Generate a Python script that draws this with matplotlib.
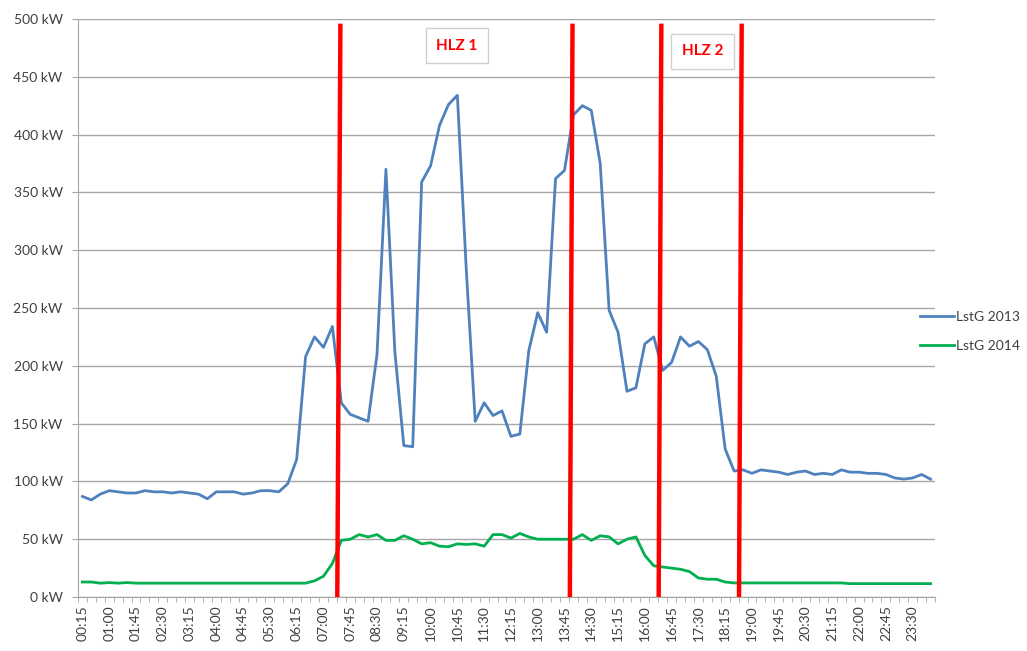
import numpy as np
import matplotlib
matplotlib.use("Agg")
import matplotlib.pyplot as plt

# 15-minute load profile, 00:15 .. 24:00
times = [f"{(m // 60) % 24:02d}:{m % 60:02d}" for m in range(15, 24 * 60 + 15, 15)]

lstg_2013 = [
    87, 84, 89, 92, 91, 90, 90, 92, 91, 91, 90, 91, 90, 89, 85, 91,
    91, 91, 89, 90, 92, 92, 91, 98, 119, 208, 225, 216, 234, 168, 158, 155,
    152, 210, 370, 212, 131, 130, 359, 373, 408, 426, 434, 283, 152, 168,
    157, 161, 139, 141, 213, 246, 229, 362, 369, 417, 425, 421, 375, 248,
    229, 178, 181, 219, 225, 196, 203, 225, 217, 221, 214, 191, 128, 109,
    110, 107, 110, 109, 108, 106, 108, 109, 106, 107, 106, 110, 108, 108,
    107, 107, 106, 103, 102, 103, 106, 102,
]
lstg_2014 = [
    13, 13, 12, 12.5, 12, 12.5, 12, 12, 12, 12, 12, 12, 12, 12, 12, 12,
    12, 12, 12, 12, 12, 12, 12, 12, 12, 12, 14, 18, 29, 49, 50, 54,
    52, 54, 49, 49, 53, 50, 46, 47, 44, 43.5, 46, 45.5, 46, 44,
    54, 54, 51, 55, 52, 50, 50, 50, 50, 50, 54, 49, 53, 52,
    46, 50, 52, 36, 27, 26, 25, 24, 22, 16.5, 15.4, 15.4, 13, 12.2,
    12.2, 12.2, 12.2, 12.2, 12.2, 12.2, 12.2, 12.2, 12.2, 12.2, 12.2, 12.2, 11.6, 11.6,
    11.6, 11.6, 11.6, 11.6, 11.6, 11.6, 11.6, 11.6,
]

# HLZ window borders in category units (bottom, top) - hand drawn, slightly tilted
hlz_borders = [(28.55, 28.9), (54.6, 54.9), (64.55, 64.85), (73.55, 73.85)]
hlz_labels = ["HLZ 1", "HLZ 2"]
hlz_label_pos = [(41.95, 477), (69.5, 472)]

blue = "#4F81BD"
green = "#00B050"
grey = "#A6A6A6"
txt = "#404040"

plt.rcParams["font.family"] = ["Lato", "DejaVu Sans"]

fig = plt.figure(figsize=(10.27, 6.51), dpi=100)
ax = fig.add_axes([0.0759, 0.0829, 0.8345, 0.8879])

x = np.arange(len(times))
ax.plot(x, lstg_2013, color=blue, lw=2.0, label="LstG 2013", zorder=3)
ax.plot(x, lstg_2014, color=green, lw=2.0, label="LstG 2014", zorder=3)

for b, t in hlz_borders:
    ax.plot([b, t], [0, 496], color="#FF0000", lw=3.2, zorder=4, solid_capstyle="butt")

for lab, (lx, ly) in zip(hlz_labels, hlz_label_pos):
    ax.text(lx, ly, lab, color="#FF0000", fontsize=11, fontweight="bold",
            ha="center", va="center", zorder=5,
            bbox=dict(boxstyle="square,pad=0.7", fc="white", ec="#D0D0D0", lw=1))

ax.set_xlim(-0.5, len(times) - 0.5)
ax.set_ylim(0, 500)
ax.set_yticks(np.arange(0, 501, 50))
ax.set_yticklabels([f"{v} kW" for v in range(0, 501, 50)], color=txt, fontsize=10)
ax.yaxis.grid(True, color=grey, lw=1)
ax.set_axisbelow(True)

ax.set_xticks(x[::3])
ax.set_xticklabels(times[::3], rotation=90, color=txt, fontsize=10)
ax.set_xticks(np.arange(-0.5, len(times), 1), minor=True)
ax.tick_params(axis="x", which="major", length=0, pad=6)
ax.tick_params(axis="x", which="minor", length=3.6, color=grey)
ax.tick_params(axis="y", length=4, color=grey, pad=7)

for s in ["top", "right"]:
    ax.spines[s].set_visible(False)
for s in ["left", "bottom"]:
    ax.spines[s].set_color(grey)

leg = fig.legend(loc="center left", bbox_to_anchor=(0.896, 0.491), frameon=False,
                 fontsize=10, handlelength=2.4, handletextpad=0.2, labelspacing=1.2,
                 borderpad=0, borderaxespad=0)
for t in leg.get_texts():
    t.set_color(txt)

fig.savefig("out.png", dpi=100)
